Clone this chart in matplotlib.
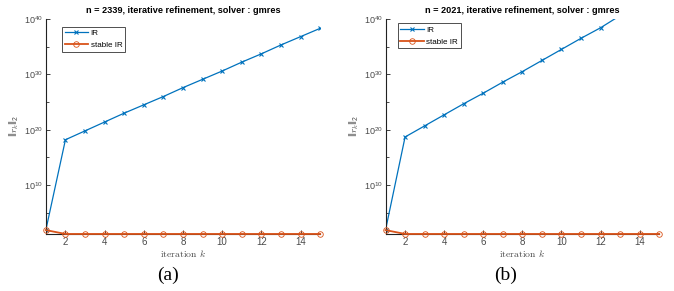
import matplotlib
matplotlib.use('Agg')
import matplotlib.pyplot as plt
import numpy as np

plt.rcParams['font.family'] = ['Liberation Sans', 'DejaVu Sans']
plt.rcParams['mathtext.default'] = 'regular'

iters = np.arange(1, 16)
ymin = 10 ** 1.2

# log10 of ||r_k||_2
ir_a = [1.9, 18.2, 19.8, 21.4, 23.0, 24.5, 26.0, 27.6, 29.1, 30.6, 32.2, 33.7, 35.3, 36.8, 38.3]
ir_b = [1.9, 18.7, 20.7, 22.7, 24.7, 26.6, 28.6, 30.5, 32.5, 34.5, 36.5, 38.4, 40.6, 42.5, 44.5]
stable_a = [1.9] + [1.2] * 14
stable_b = [1.9] + [1.2] * 14

sizes = [2339, 2021]
captions = ['(a)', '(b)']

blue = '#0072BD'
orange = '#D95319'
grey = '#4a4a4a'

fig = plt.figure(figsize=(6.74, 2.91), dpi=100)
boxes = [[0.068, 0.196, 0.407, 0.739], [0.572, 0.196, 0.406, 0.739]]
legend_pos = [(0.05, 0.975), (0.035, 0.99)]

for i, (ir, st) in enumerate([(ir_a, stable_a), (ir_b, stable_b)]):
    ax = fig.add_axes(boxes[i])
    ax.plot(iters, 10.0 ** np.array(ir), color=blue, lw=0.9, marker='x', ms=3.5, mew=0.8, label='IR')
    ax.plot(iters, 10.0 ** np.array(st), color=orange, lw=1.3, marker='o', ms=4, mew=0.6,
            mfc='none', label='stable IR', clip_on=False, zorder=3)
    ax.set_yscale('log')
    ax.set_xlim(1, 15)
    ax.set_ylim(ymin, 1e40)
    ax.set_xticks([2, 4, 6, 8, 10, 12, 14])
    ax.set_yticks([1e10, 1e20, 1e30, 1e40])
    ax.set_yticklabels([r'$10^{10}$', r'$10^{20}$', r'$10^{30}$', r'$10^{40}$'])
    ax.set_yticks([1e5, 1e15, 1e25, 1e35], minor=True)
    ax.set_yticklabels([], minor=True)
    ax.tick_params(direction='in', length=3, width=0.6, labelsize=6.5, colors=grey, pad=2)
    ax.tick_params(which='minor', direction='in', length=2, width=0.5)
    ax.tick_params(axis='x', labelsize=7, color='#222222')
    ax.tick_params(axis='y', color='#222222')
    for s in ['top', 'right']:
        ax.spines[s].set_visible(False)
    for s in ['left', 'bottom']:
        ax.spines[s].set_color('#222222')
        ax.spines[s].set_linewidth(0.8)
    ax.set_title(f'n = {sizes[i]}, iterative refinement, solver : gmres',
                 fontsize=6.6, fontweight='bold', pad=4)
    ax.set_xlabel(r'$\mathrm{iteration}\ \mathit{k}$', math_fontfamily='cm', fontsize=7, color=grey, labelpad=1)
    ax.set_ylabel(r'$\|\mathit{r}_\mathit{k}\|_2$', math_fontfamily='cm', fontsize=7, color=grey, labelpad=2)
    leg = ax.legend(loc='upper left', bbox_to_anchor=legend_pos[i], fontsize=5.8, frameon=True,
                    fancybox=False, edgecolor='#222222', borderpad=0.35, handlelength=2.9,
                    labelspacing=0.5, handletextpad=0.3, borderaxespad=0.3)
    leg.get_frame().set_linewidth(0.7)
    fig.text(0.25 + 0.5 * i, 0.055, captions[i], ha='center', va='center',
             fontsize=14, family='Liberation Serif')

fig.savefig('out.png', dpi=100)
